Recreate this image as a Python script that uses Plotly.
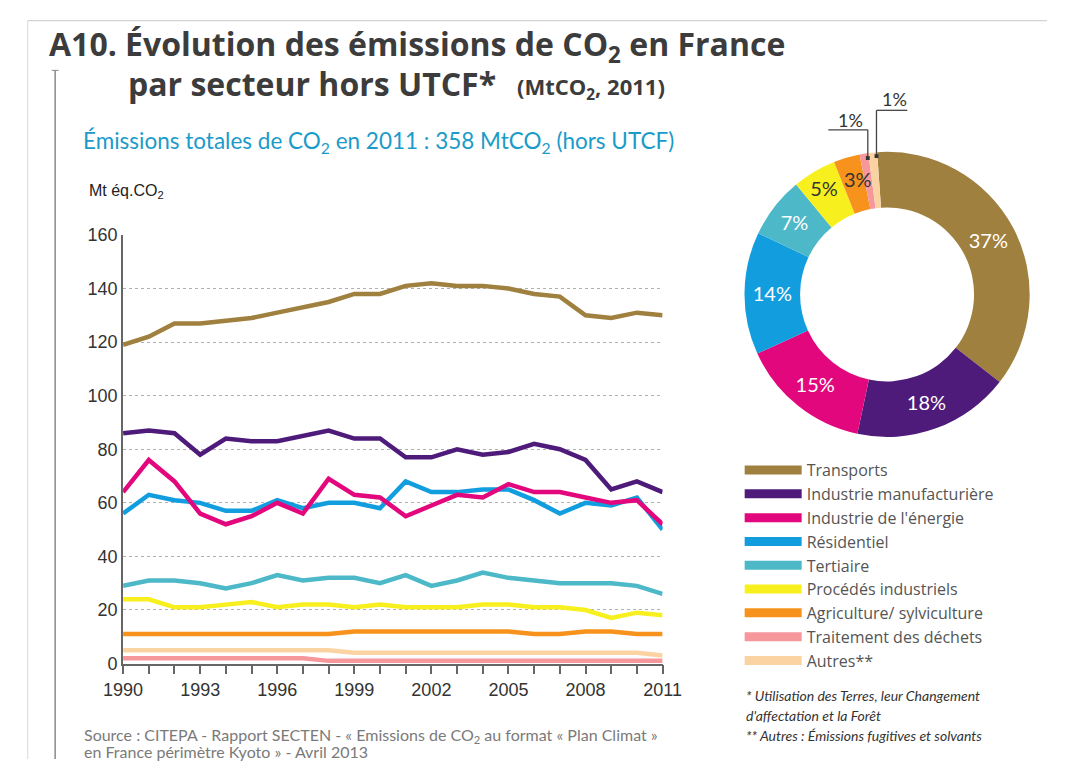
import plotly.graph_objects as go

W, H = 1066, 769

years = list(range(1990, 2012))

sectors = [
    "Transports",
    "Industrie manufacturière",
    "Industrie de l'énergie",
    "Résidentiel",
    "Tertiaire",
    "Procédés industriels",
    "Agriculture/ sylviculture",
    "Traitement des déchets",
    "Autres**",
]

colors = ["#a0803f", "#4e1b7b", "#e3077d", "#129ddf", "#4cb8c8",
          "#f7f01e", "#f7921c", "#f5979b", "#fbd3a3"]

transports = [119, 122, 127, 127, 128, 129, 131, 133, 135, 138, 138, 141, 142, 141, 141, 140, 138, 137, 130, 129, 131, 130]
industrie_manuf = [86, 87, 86, 78, 84, 83, 83, 85, 87, 84, 84, 77, 77, 80, 78, 79, 82, 80, 76, 65, 68, 64]
industrie_energie = [64, 76, 68, 56, 52, 55, 60, 56, 69, 63, 62, 55, 59, 63, 62, 67, 64, 64, 62, 60, 61, 52]
residentiel = [56, 63, 61, 60, 57, 57, 61, 58, 60, 60, 58, 68, 64, 64, 65, 65, 61, 56, 60, 59, 62, 50]
tertiaire = [29, 31, 31, 30, 28, 30, 33, 31, 32, 32, 30, 33, 29, 31, 34, 32, 31, 30, 30, 30, 29, 26]
procedes = [24, 24, 21, 21, 22, 23, 21, 22, 22, 21, 22, 21, 21, 21, 22, 22, 21, 21, 20, 17, 19, 18]
agriculture = [11, 11, 11, 11, 11, 11, 11, 11, 11, 12, 12, 12, 12, 12, 12, 12, 11, 11, 12, 12, 11, 11]
dechets = [2, 2, 2, 2, 2, 2, 2, 2, 1, 1, 1, 1, 1, 1, 1, 1, 1, 1, 1, 1, 1, 1]
autres = [5, 5, 5, 5, 5, 5, 5, 5, 5, 4, 4, 4, 4, 4, 4, 4, 4, 4, 4, 4, 4, 3]

series = [transports, industrie_manuf, industrie_energie, residentiel, tertiaire,
          procedes, agriculture, dechets, autres]

share_2011 = [37, 18, 15, 14, 7, 5, 3, 1, 1]

x_tick_vals = [1990, 1993, 1996, 1999, 2002, 2005, 2008, 2011]
y_tick_vals = [0, 20, 40, 60, 80, 100, 120, 140, 160]

NARROW = "Liberation Sans Narrow, Arial Narrow, sans-serif"
HUMAN = "Lato, Open Sans, sans-serif"
BOLD = "Open Sans, Lato, sans-serif"


def px(x):
    return x / W


def py(y):
    return 1 - y / H


fig = go.Figure()

draw_order = [8, 7, 6, 5, 4, 3, 2, 1, 0]
for i in draw_order:
    fig.add_trace(go.Scatter(
        x=years, y=series[i], mode="lines", name=sectors[i],
        line=dict(color=colors[i], width=4.5),
        showlegend=False, legendgroup=sectors[i],
    ))

for i, name in enumerate(sectors):
    fig.add_trace(go.Scatter(
        x=[None], y=[None], mode="lines", name=name,
        line=dict(color=colors[i], width=9),
        legendgroup=name, showlegend=True,
    ))

fig.add_trace(go.Pie(
    labels=sectors, values=share_2011, sort=False, direction="clockwise",
    rotation=-4, hole=0.61,
    marker=dict(colors=colors, line=dict(width=0)),
    texttemplate="%{value}%",
    textposition=["inside"] * 6 + ["none"] * 3,
    insidetextorientation="horizontal",
    textfont=dict(family=HUMAN, size=20,
                  color=["white", "white", "white", "white", "white", "#333333", "#333333", "#333333", "#333333"]),
    showlegend=False,
    domain=dict(x=[px(752), px(1048)], y=[py(441), py(143)]),
))

fig.update_layout(
    width=W, height=H,
    margin=dict(l=0, r=0, t=0, b=0),
    paper_bgcolor="white", plot_bgcolor="white",
    xaxis=dict(
        domain=[px(107), px(667)], range=[1990, 2011],
        tickvals=x_tick_vals, ticks="outside", ticklen=9, tickwidth=2, tickcolor="#666666",
        showline=True, linecolor="#666666", linewidth=1.5,
        showgrid=False, zeroline=False,
        tickfont=dict(family=NARROW, size=18, color="#333333"),
        minor=dict(dtick=1, tick0=1990, ticks="outside", ticklen=9, tickwidth=2, tickcolor="#666666", showgrid=False),
    ),
    yaxis=dict(
        domain=[py(671), py(231)], range=[0, 160],
        tickvals=y_tick_vals, ticks="",
        showline=True, linecolor="#666666", linewidth=2,
        showgrid=True, gridcolor="#b0b0b0", griddash="dot", gridwidth=1,
        zeroline=False,
        tickfont=dict(family=NARROW, size=18, color="#333333"),
    ),
    legend=dict(
        x=px(747), y=py(455), xanchor="left", yanchor="top",
        font=dict(family="Open Sans, Lato, sans-serif", size=16, color="#555555"),
        itemwidth=57, bgcolor="rgba(0,0,0,0)", tracegroupgap=0,
        traceorder="normal",
    ),
    showlegend=True,
)


def note(x, y, text, size, color, family=HUMAN, anchor="left"):
    fig.add_annotation(x=px(x), y=py(y), xref="paper", yref="paper",
                       xanchor=anchor, yanchor="middle", text=text,
                       font=dict(family=family, size=size, color=color),
                       showarrow=False)


note(28, 37, "<b>A10. Évolution des émissions de CO<sub>2</sub> en France</b>", 32, "#3c3c3c", BOLD)
note(110, 75, "<b>par secteur hors UTCF*</b>", 32, "#3c3c3c", BOLD)
note(514, 80, "<b>(MtCO<sub>2</sub>, 2011)</b>", 22, "#3c3c3c", BOLD)
note(63, 136, "Émissions totales de CO<sub>2</sub> en 2011 : 358 MtCO<sub>2</sub> (hors UTCF)", 22.5, "#1a9bc9")
note(70, 186, "Mt éq.CO<sub>2</sub>", 16, "#222222", NARROW)
note(870, 174, "3%", 20, "#333333", HUMAN, "center")
note(862, 113, "1%", 18, "#333333", HUMAN, "center")
note(908, 91, "1%", 18, "#333333", HUMAN, "center")

foot = ["* Utilisation des Terres, leur Changement",
        "d'affectation et la Forêt",
        "** Autres : Émissions fugitives et solvants"]
for k, t in enumerate(foot):
    note(751, 704 + k * 20.5, "<i>" + t + "</i>", 14, "#333333")

src = ["Source : CITEPA - Rapport SECTEN - « Emissions de CO<sub>2</sub> au format « Plan Climat »",
       "en France périmètre Kyoto » - Avril 2013"]
for k, t in enumerate(src):
    note(64, 745 + k * 16, t, 16, "#7a7a7a")

shapes = []
shapes.append(dict(type="line", xref="paper", yref="paper", x0=px(8), x1=1, y0=py(11), y1=py(11),
                   line=dict(color="#c8c8c8", width=1)))
shapes.append(dict(type="line", xref="paper", yref="paper", x0=px(8), x1=px(8), y0=py(11), y1=0,
                   line=dict(color="#d8d8d8", width=1)))
shapes.append(dict(type="line", xref="paper", yref="paper", x0=px(36.5), x1=px(36.5), y0=py(62), y1=0,
                   line=dict(color="#8a8a8a", width=1.5)))
shapes.append(dict(type="line", xref="paper", yref="paper", x0=px(33), x1=px(40), y0=py(62), y1=py(62),
                   line=dict(color="#8a8a8a", width=1)))
lead = dict(color="#444444", width=1.3)
shapes.append(dict(type="line", xref="paper", yref="paper", x0=px(839), x1=px(880), y0=py(123), y1=py(123), line=lead))
shapes.append(dict(type="line", xref="paper", yref="paper", x0=px(880), x1=px(880), y0=py(123), y1=py(152), line=lead))
shapes.append(dict(type="rect", xref="paper", yref="paper", x0=px(878), x1=px(882), y0=py(154), y1=py(150),
                   line=dict(width=0), fillcolor="#333333"))
shapes.append(dict(type="line", xref="paper", yref="paper", x0=px(889), x1=px(921), y0=py(103), y1=py(103), line=lead))
shapes.append(dict(type="line", xref="paper", yref="paper", x0=px(889), x1=px(889), y0=py(103), y1=py(150), line=lead))
shapes.append(dict(type="rect", xref="paper", yref="paper", x0=px(887), x1=px(891), y0=py(152), y1=py(148),
                   line=dict(width=0), fillcolor="#333333"))
fig.update_layout(shapes=shapes)

fig.write_html("out.html", config={"displayModeBar": False},
               post_script="document.body.style.margin='0';document.body.style.overflow='hidden';")
